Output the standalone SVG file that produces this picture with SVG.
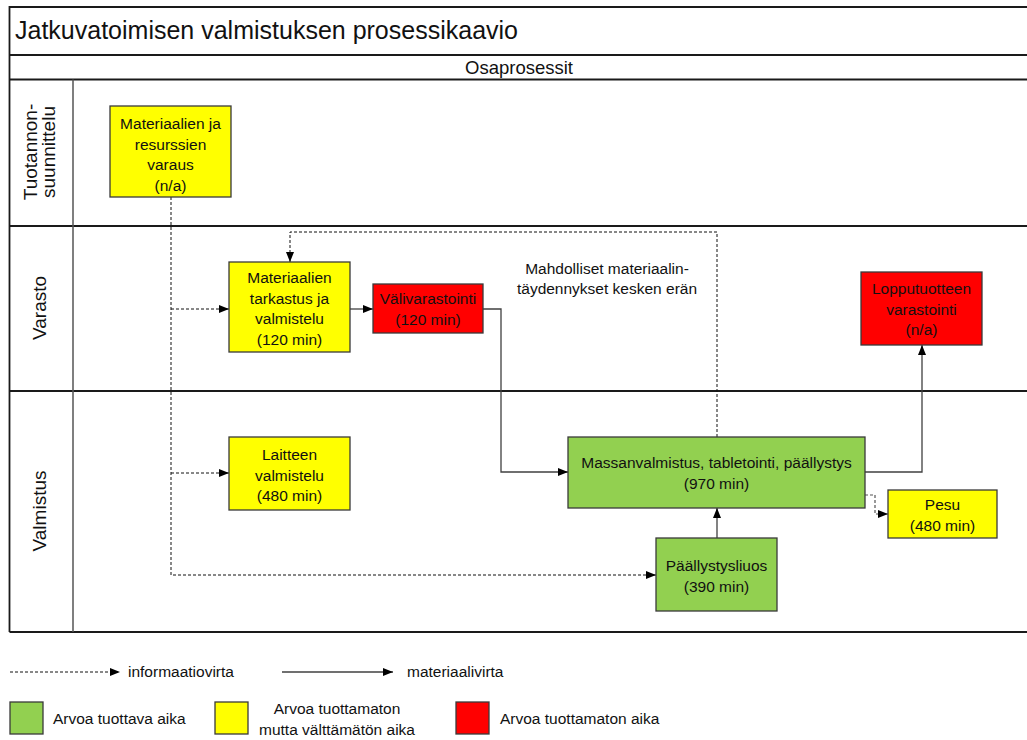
<svg xmlns="http://www.w3.org/2000/svg" width="1027" height="740" viewBox="0 0 1027 740">
  <defs>
    <marker id="ah" viewBox="0 0 10 10" refX="10" refY="5" markerWidth="10" markerHeight="10" markerUnits="userSpaceOnUse" orient="auto">
      <path d="M0,1 L10,5 L0,9 Z" fill="#000"/>
    </marker>
    <style>
      .frame{stroke:#1a1a1a;stroke-width:1.8;fill:none}
      .div{stroke:#555;stroke-width:1.5;fill:none}
      .box{stroke:#3a3a3a;stroke-width:1.3}
      .y{fill:#ffff00}
      .r{fill:#ff0000}
      .g{fill:#92d050}
      text{font-family:"Liberation Sans",Arial,sans-serif;fill:#111}
      .t{font-size:15.5px;text-anchor:middle}
      .lg{font-size:15.5px}
      .lane{font-size:19px;text-anchor:middle}
      .flow{stroke:#404040;stroke-width:1.3;fill:none;marker-end:url(#ah)}
      .info{stroke:#111;stroke-width:1;stroke-dasharray:3 2;fill:none;marker-end:url(#ah)}
      .infog{stroke:#555;stroke-width:1.2;stroke-dasharray:3 2;fill:none;marker-end:url(#ah)}
    </style>
  </defs>
  <rect width="1027" height="740" fill="#fff"/>

  <!-- swimlane frame -->
  <g id="frame">
    <path class="frame" d="M9.5,632 V7 H1027 M9.5,55 H1027 M9.5,79.5 H1027 M9.5,226 H1027 M9.5,391 H1027 M9.5,632 H1027"/>
    <path class="div" d="M73,79.5 V632"/>
    <text x="15" y="39" font-size="25">Jatkuvatoimisen valmistuksen prosessikaavio</text>
    <text x="519" y="74" font-size="18.5" text-anchor="middle">Osaprosessit</text>
    <text class="lane" transform="translate(40,152) rotate(-90)"><tspan x="0" y="-3">Tuotannon-</tspan><tspan x="0" y="15">suunnittelu</tspan></text>
    <text class="lane" transform="translate(40,308) rotate(-90)" y="6">Varasto</text>
    <text class="lane" transform="translate(40,511) rotate(-90)" y="6">Valmistus</text>
  </g>

  <!-- connectors -->
  <g id="connectors">
    <path class="info" d="M171,197 V575 H656"/>
    <path class="info" d="M171,309 H229"/>
    <path class="info" d="M171,473 H229"/>
    <path class="flow" d="M350,309 H373"/>
    <path class="flow" d="M483,309 H501 V472 H568"/>
    <path class="info" d="M717,437 V232 H290 V262"/>
    <path class="flow" d="M865,472 H922 V345"/>
    <path class="infog" d="M865,495 H875 V514 H888"/>
    <path class="flow" d="M717,538 V508"/>
    <text class="t" x="607" y="274">Mahdolliset materiaalin-</text>
    <text class="t" x="607" y="294">täydennykset kesken erän</text>
  </g>

  <!-- process steps -->
  <g id="n-varaus">
    <rect class="box y" x="110" y="106" width="121" height="91"/>
    <text class="t" x="170.5" y="129">Materiaalien ja</text>
    <text class="t" x="170.5" y="149.5">resurssien</text>
    <text class="t" x="170.5" y="170">varaus</text>
    <text class="t" x="170.5" y="190.5">(n/a)</text>
  </g>
  <g id="n-tarkastus">
    <rect class="box y" x="229" y="262" width="121" height="90"/>
    <text class="t" x="289.5" y="283">Materiaalien</text>
    <text class="t" x="289.5" y="303.5">tarkastus ja</text>
    <text class="t" x="289.5" y="324">valmistelu</text>
    <text class="t" x="289.5" y="344.5">(120 min)</text>
  </g>
  <g id="n-valivarastointi">
    <rect class="box r" x="373" y="284" width="110" height="49"/>
    <text class="t" x="428" y="304">Välivarastointi</text>
    <text class="t" x="428" y="325">(120 min)</text>
  </g>
  <g id="n-lopputuote">
    <rect class="box r" x="861" y="272" width="121" height="73"/>
    <text class="t" x="921.5" y="294">Lopputuotteen</text>
    <text class="t" x="921.5" y="315">varastointi</text>
    <text class="t" x="921.5" y="335">(n/a)</text>
  </g>
  <g id="n-laite">
    <rect class="box y" x="229" y="437" width="121" height="73"/>
    <text class="t" x="289.5" y="460">Laitteen</text>
    <text class="t" x="289.5" y="480.5">valmistelu</text>
    <text class="t" x="289.5" y="501">(480 min)</text>
  </g>
  <g id="n-massa">
    <rect class="box g" x="568" y="437" width="297" height="71"/>
    <text class="t" x="716.5" y="468">Massanvalmistus, tabletointi, päällystys</text>
    <text class="t" x="716.5" y="488.5">(970 min)</text>
  </g>
  <g id="n-pesu">
    <rect class="box y" x="888" y="490" width="109" height="48"/>
    <text class="t" x="942.5" y="510">Pesu</text>
    <text class="t" x="942.5" y="531">(480 min)</text>
  </g>
  <g id="n-liuos">
    <rect class="box g" x="656" y="538" width="121" height="73"/>
    <text class="t" x="716.5" y="571">Päällystysliuos</text>
    <text class="t" x="716.5" y="592">(390 min)</text>
  </g>

  <!-- legend -->
  <g id="legend">
    <path class="info" d="M10,672 H120"/>
    <text class="lg" x="128" y="677">informaatiovirta</text>
    <path class="flow" d="M282,672 H393"/>
    <text class="lg" x="407" y="677">materiaalivirta</text>
    <rect class="box g" x="10" y="702" width="33" height="32"/>
    <text class="lg" x="53" y="724">Arvoa tuottava aika</text>
    <rect class="box y" x="215" y="702" width="33" height="32"/>
    <text class="lg" x="337" y="714" text-anchor="middle">Arvoa tuottamaton</text>
    <text class="lg" x="337" y="735" text-anchor="middle">mutta välttämätön aika</text>
    <rect class="box r" x="456" y="702" width="33" height="32"/>
    <text class="lg" x="500" y="724">Arvoa tuottamaton aika</text>
  </g>
</svg>
